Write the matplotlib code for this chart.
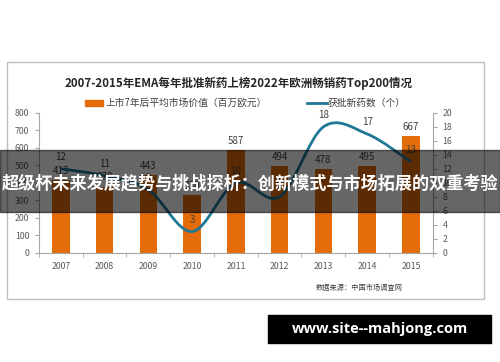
import matplotlib
matplotlib.use("Agg")
import matplotlib.pyplot as plt
from matplotlib.path import Path
from matplotlib.patches import PathPatch, Rectangle

plt.rcParams['font.family'] = ['Noto Sans CJK SC', 'DejaVu Sans']

# data
years = ['2007', '2008', '2009', '2010', '2011', '2012', '2013', '2014', '2015']
market_value = [413, 378, 443, 330, 587, 494, 478, 495, 667]
new_drugs = [12, 11, 9, 3, 10, 8, 18, 17, 13]

title = '2007-2015年EMA每年批准新药上榜2022年欧洲畅销药Top200情况'
bar_label = '上市7年后平均市场价值（百万欧元）'
line_label = '获批新药数（个）'
source = '数据来源：中国市场调查网'
overlay_text = '超级杯未来发展趋势与挑战探析：创新模式与市场拓展的双重考验'
watermark = 'www.site--mahjong.com'

W, H = 500, 362
orange = '#E46C0A'
teal = '#1F7896'
axis_gray = '#A6A6A6'
tick_gray = '#595959'


def fx(x):
    return x / W


def fy(y):
    return 1 - y / H


fig = plt.figure(figsize=(W / 100, H / 100), dpi=100)

# chart frame
fig.patches.append(Rectangle((fx(7), fy(299)), fx(484) - fx(7), fy(62) - fy(299),
                             transform=fig.transFigure, fill=False,
                             edgecolor='#BFBFBF', lw=1))

ax = fig.add_axes([fx(39), fy(252.5), fx(432.7) - fx(39), fy(113) - fy(252.5)])
x = list(range(len(years)))
ax.bar(x, market_value, width=0.4, color=orange, zorder=2)
ax.set_xlim(-0.5, len(years) - 0.5)
ax.set_ylim(0, 800)
ax.set_yticks(range(0, 801, 100))
ax.set_xticks(x)
ax.set_xticklabels(years)
ax.set_xticks([i - 0.5 for i in range(len(years) + 1)], minor=True)
ax.tick_params(axis='x', which='major', length=0, pad=7, labelsize=6.3, labelcolor=tick_gray)
ax.tick_params(axis='x', which='minor', length=3, color=axis_gray, direction='out')
ax.tick_params(axis='y', length=3, color=axis_gray, pad=4, labelsize=6.3, labelcolor=tick_gray)
for s in ['top', 'right']:
    ax.spines[s].set_visible(False)
for s in ['left', 'bottom']:
    ax.spines[s].set_color(axis_gray)
    ax.spines[s].set_linewidth(0.8)
for xi, v in zip(x, market_value):
    ax.annotate(str(v), (xi, v), xytext=(0, 3), textcoords='offset points',
                ha='center', va='bottom', fontsize=7, color='#404040')

ax2 = ax.twinx()
ax2.set_ylim(0, 20)
ax2.set_yticks(range(0, 21, 2))
ax2.tick_params(axis='y', length=3, color=axis_gray, pad=4, labelsize=6.3, labelcolor=tick_gray)
for s in ['top', 'left', 'bottom']:
    ax2.spines[s].set_visible(False)
ax2.spines['right'].set_color(axis_gray)
ax2.spines['right'].set_linewidth(0.8)

# smoothed line like Excel (Catmull-Rom through the points)
pts = list(zip(x, new_drugs))
verts = [pts[0]]
codes = [Path.MOVETO]
n = len(pts)
for i in range(n - 1):
    p0 = pts[max(i - 1, 0)]
    p1 = pts[i]
    p2 = pts[i + 1]
    p3 = pts[min(i + 2, n - 1)]
    c1 = (p1[0] + (p2[0] - p0[0]) / 6, p1[1] + (p2[1] - p0[1]) / 6)
    c2 = (p2[0] - (p3[0] - p1[0]) / 6, p2[1] - (p3[1] - p1[1]) / 6)
    verts += [c1, c2, p2]
    codes += [Path.CURVE4] * 3
ax2.add_patch(PathPatch(Path(verts, codes), fill=False, edgecolor=teal, lw=2, zorder=3))
for xi, v in zip(x, new_drugs):
    ax2.annotate(str(v), (xi, v), xytext=(0, 5), textcoords='offset points',
                 ha='center', va='bottom', fontsize=7, color='#404040')

# title and legend
fig.text(fx(239), fy(83), title, ha='center', va='center', fontsize=8.3,
         fontweight='bold', color='#262626')
fig.patches.append(Rectangle((fx(85), fy(106)), fx(103) - fx(85), fy(100) - fy(106),
                             transform=fig.transFigure, color=orange))
fig.text(fx(105), fy(103), bar_label, ha='left', va='center', fontsize=7, color='#404040')
fig.lines.append(plt.Line2D([fx(307), fx(327)], [fy(103), fy(103)],
                            transform=fig.transFigure, color=teal, lw=2))
fig.text(fx(328), fy(103), line_label, ha='left', va='center', fontsize=7, color='#404040')
fig.text(fx(316), fy(288), source, ha='left', va='center', fontsize=5.2, color='#404040')

# dark banner over the chart
fig.patches.append(Rectangle((0, fy(212)), 1, fy(150) - fy(212),
                             transform=fig.transFigure, color='black', alpha=0.6, zorder=10))
fig.text(0.5, fy(183), overlay_text, ha='center', va='center', fontsize=12.3,
         fontweight='bold', color='white', zorder=11)

# watermark box
fig.patches.append(Rectangle((fx(268), fy(343)), fx(491) - fx(268), fy(315) - fy(343),
                             transform=fig.transFigure, color='black', zorder=10))
fig.text(fx(379.5), fy(329), watermark, ha='center', va='center', fontsize=10.5,
         fontweight='bold', color='white', family=['Open Sans', 'DejaVu Sans'], zorder=11)

fig.savefig('out.png', dpi=100)
